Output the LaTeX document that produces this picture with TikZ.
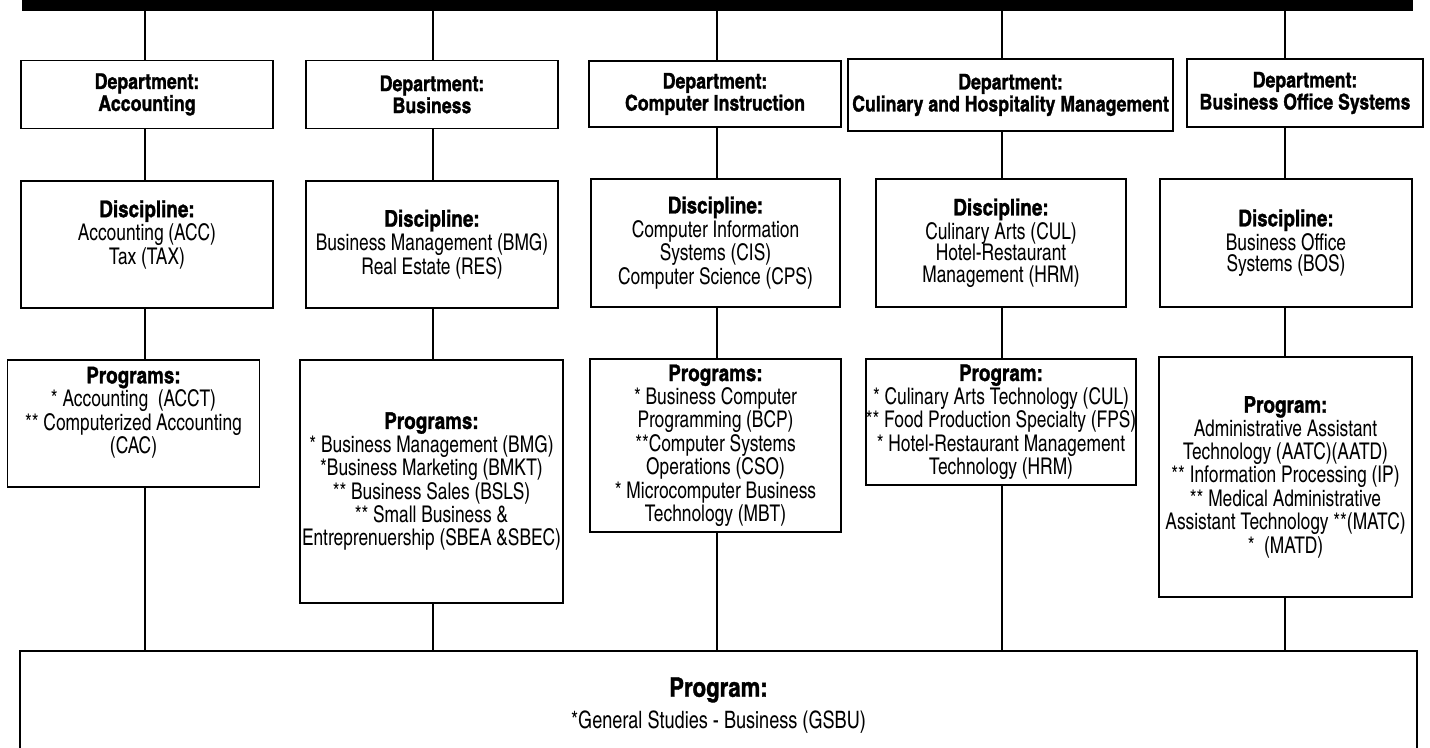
\documentclass[tikz,border=0pt]{standalone}
\usepackage{fontspec}
\setmainfont{texgyreheroscn}[Extension=.otf,UprightFont=*-regular,BoldFont=*-bold,
	UprightFeatures={FakeStretch=0.92},BoldFeatures={FakeBold=1.2}]

\begin{document}
\begin{tikzpicture}[x=0.5pt,y=-0.5pt,line width=0.6pt,
	box/.style={draw,line width=0.8pt,fill=white,align=center,inner sep=1pt},
	dept/.style={box,font=\bfseries\fontsize{10.8}{11}\selectfont},
	disc/.style={box,font=\fontsize{11.5}{10.8}\selectfont},
	prog/.style={box,font=\fontsize{11.5}{11.7}\selectfont}]

\useasboundingbox (0,0) rectangle (1430,748);

\fill (22,-10) rectangle (1413,11.5);
\coordinate (c1) at (145,11);
\coordinate (c2) at (433,11);
  \coordinate (c3) at (717,11);
\coordinate (c4) at (1002,11);
	\coordinate (c5) at (1285,11);

\node[box,minimum width=698.5pt,minimum height=54.5pt,font=\fontsize{12}{16}\selectfont] (gen) at (718.5,705.5)
	{{\bfseries\fontsize{13.5}{16}\selectfont Program:}\\*General Studies - Business (GSBU)};

\draw (c1) -- (c1 |- gen.north);
\draw (c2) -- (c2 |- gen.north);
\draw (c3) -- (c3 |- gen.north);
\draw (c4) -- (c4 |- gen.north);
\draw (c5) -- (c5 |- gen.north);

\node[dept,minimum width=126pt,minimum height=34pt] (d1) at (147,94.5) {Department:\\Accounting};
\node[dept,minimum width=126pt,minimum height=34pt] (d2) at (432,94.5) {Department:\\Business};
	\node[dept,minimum width=126pt,minimum height=33pt] (d3) at (715,94) {Department:\\Computer Instruction};
\node[dept,minimum width=162.5pt,minimum height=36pt] (d4) at (1010.5,95) {Department:\\Culinary and Hospitality Management};
\node[dept,minimum width=118pt,minimum height=34pt] (d5) at (1305,93) {Department:\\Business Office Systems};

\node[disc,minimum width=126pt,minimum height=63.5pt,text depth=12pt] (s1) at (147,244.5)
	{\textbf{Discipline:}\\Accounting (ACC)\\Tax (TAX)};
\node[disc,minimum width=126pt,minimum height=63.5pt] (s2) at (432,244.5)
	{\textbf{Discipline:}\\Business Management (BMG)\\Real Estate (RES)};
\node[disc,minimum width=124.5pt,minimum height=64pt] (s3) at (715.5,243)
	{\textbf{Discipline:}\\Computer Information\\Systems (CIS)\\Computer Science (CPS)};
  \node[disc,minimum width=125pt,minimum height=64pt] (s4) at (1001,243)
	{\textbf{Discipline:}\\Culinary Arts (CUL)\\Hotel-Restaurant\\Management (HRM)};
\node[disc,minimum width=126pt,minimum height=64pt] (s5) at (1286,243)
	{\textbf{Discipline:}\\Business Office\\Systems (BOS)};

\node[prog,minimum width=126pt,minimum height=63.5pt,text depth=13.3pt] (p1) at (133.5,423.5)
	{\textbf{Programs:}\\* Accounting\ \ (ACCT)\\** Computerized Accounting\\(CAC)};
\node[prog,minimum width=125.5pt,minimum height=121.5pt] (p2) at (431.5,481.5)
	{\textbf{Programs:}\\* Business Management (BMG)\\*Business Marketing (BMKT)\\** Business Sales (BSLS)\\** Small Business \&\\Entreprenuership (SBEA \&SBEC)};
\node[prog,minimum width=125.5pt,minimum height=86.5pt] (p3) at (715.5,445.5)
	{\textbf{Programs:}\\* Business Computer\\Programming (BCP)\\**Computer Systems\\Operations (CSO)\\* Microcomputer Business\\Technology (MBT)};
\node[prog,minimum width=125pt,minimum height=63pt,inner xsep=0pt] (p4) at (1001,422)
	{\textbf{Program:}\\* Culinary Arts Technology (CUL)\\** Food Production Specialty (FPS)\\* Hotel-Restaurant Management\\Technology (HRM)};
	\node[prog,minimum width=126.5pt,minimum height=120pt] (p5) at (1285.5,477)
	{\textbf{Program:}\\Administrative Assistant\\Technology (AATC)(AATD)\\** Information Processing (IP)\\** Medical Administrative\\Assistant Technology **(MATC)\\*\ \ (MATD)};

\end{tikzpicture}
\end{document}
